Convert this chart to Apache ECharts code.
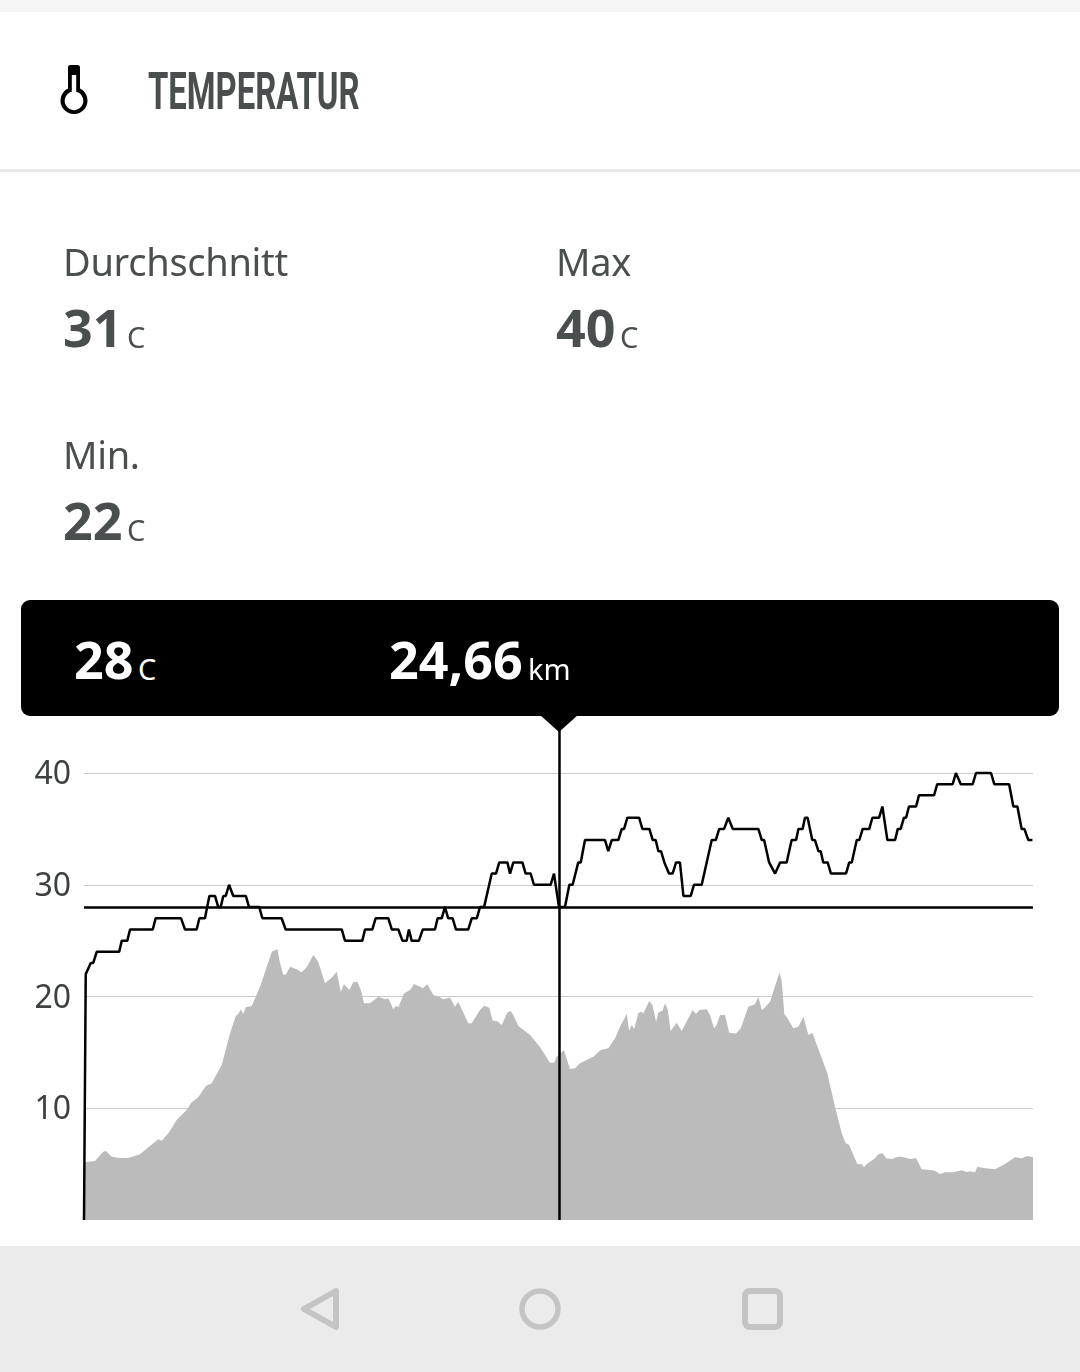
<!DOCTYPE html>
<html lang="de">
<head>
<meta charset="utf-8">
<title>Temperatur</title>
<script src="https://cdn.jsdelivr.net/npm/echarts@6/dist/echarts.min.js"></script>
<style>
  html, body { margin: 0; padding: 0; background: #fff; }
  body { position: relative; width: 1080px; height: 1372px; overflow: hidden; font-family: "Noto Sans", sans-serif; color: #4a4e4e; }
  #chart { position: absolute; left: 0; top: 0; width: 1080px; height: 1372px; }
  .abs { position: absolute; white-space: nowrap; line-height: 1; }
  .topStrip { position: absolute; left: 0; top: 0; width: 1080px; height: 12px; background: #f5f5f5; }
  .headerLine { position: absolute; left: 0; top: 169px; width: 1080px; height: 3px; background: #e8e8e8; }
  .title { left: 148px; top: 66px; font-family: Roboto, sans-serif; font-weight: 700; font-size: 52px; transform-origin: 0 0; transform: scaleX(0.632); }
  .label { font-size: 38px; letter-spacing: -0.3px; }
  .num { font-size: 52px; font-weight: 700; }
  .unit { font-size: 29px; }
  .tip { position: absolute; left: 21px; top: 600px; width: 1038px; height: 116px; background: #000; border-radius: 9px; }
  .pointer { position: absolute; left: 540px; top: 715px; width: 0; height: 0; border-left: 19px solid transparent; border-right: 19px solid transparent; border-top: 17px solid #000; }
  .white { color: #fff; }
  .nav { position: absolute; left: 0; top: 1246px; width: 1080px; height: 126px; background: #ebebeb; }
  svg { position: absolute; left: 0; top: 0; }
</style>
</head>
<body>
<div id="chart"></div>
<div class="topStrip"></div>
<div class="headerLine"></div>
<svg width="150" height="150" style="left:0;top:0">
  <path d="M70.5 65h7a2.5 2.5 0 0 1 2.5 2.5V88.5a13.5 13.5 0 1 1-12 0V67.500a2.500 2.500 0 0 1 2.500-2.500z" fill="#000"/>
  <path d="M71.800 75h4.400V91.800a9.300 9.300 0 1 1-4.400 0z" fill="#fff"/>
</svg>
<div class="abs title">TEMPERATUR</div>

<div class="abs label" style="left:63px;top:242px">Durchschnitt</div>
<div class="abs num" style="left:63px;top:301px">31</div>
<div class="abs unit" style="left:127px;top:322px">C</div>
<div class="abs label" style="left:556px;top:242px">Max</div>
<div class="abs num" style="left:556px;top:301px">40</div>
<div class="abs unit" style="left:620px;top:322px">C</div>
<div class="abs label" style="left:63px;top:435px">Min.</div>
<div class="abs num" style="left:63px;top:494px">22</div>
<div class="abs unit" style="left:127px;top:515px">C</div>

<div class="tip"></div>
<div class="pointer"></div>
<div class="abs num white" style="left:74px;top:633px">28</div>
<div class="abs unit white" style="left:138px;top:654px">C</div>
<div class="abs num white" style="left:389px;top:633px">24,66</div>
<div class="abs unit white" style="left:528px;top:654px">km</div>

<div class="nav"></div>
<svg width="1080" height="1372" style="pointer-events:none">
  <path d="M336 1291L304 1309L336 1327Z" fill="none" stroke="#c4c4c4" stroke-width="6" stroke-linejoin="round"/>
  <circle cx="540" cy="1309" r="18" fill="none" stroke="#c4c4c4" stroke-width="5.500"/>
  <rect x="745" y="1291" width="35" height="36" rx="5" fill="none" stroke="#c4c4c4" stroke-width="6"/>
</svg>

<script>
// Temperaturkurve, Stuetzpunkte
const tempKm = [0, 0.09, 0.17, 0.35, 0.48, 0.66, 1.83, 1.96, 2.25, 2.39, 3.57, 3.72, 5.04, 5.24, 5.85, 5.99, 6.28, 6.51, 6.80, 6.97, 7.10, 7.23, 7.36, 7.53, 7.75, 8.40, 8.57, 9.10, 9.26, 10.26, 10.47, 13.38, 13.55, 14.45, 14.59, 14.97, 15.14, 15.80, 15.98, 16.32, 16.53, 16.75, 16.87, 17.01, 17.39, 17.59, 18.22, 18.36, 18.57, 18.74, 18.91, 19.14, 19.31, 19.95, 20.13, 20.39, 20.56, 20.77, 21.17, 21.39, 21.56, 21.98, 22.12, 22.29, 22.76, 22.93, 23.19, 23.36, 24.23, 24.40, 24.49, 24.66, 24.80, 24.97, 25.20, 25.37, 25.66, 25.79, 26.01, 27.05, 27.22, 27.40, 27.74, 27.92, 28.04, 28.21, 28.82, 28.99, 29.35, 29.53, 29.68, 29.82, 29.96, 30.13, 30.20, 30.37, 30.56, 30.74, 30.94, 31.12, 31.50, 31.67, 32.07, 32.59, 32.80, 32.98, 33.23, 33.45, 33.68, 35.01, 35.19, 35.31, 35.57, 35.67, 35.88, 35.97, 36.14, 36.48, 36.74, 36.97, 37.09, 37.31, 37.43, 37.57, 37.81, 37.95, 38.13, 38.25, 38.38, 38.61, 38.78, 39.56, 39.73, 39.86, 40.12, 40.25, 40.43, 40.77, 40.93, 41.28, 41.45, 41.71, 42.11, 42.25, 42.40, 42.57, 42.68, 42.83, 43.20, 43.35, 44.13, 44.30, 45.10, 45.27, 45.52, 46.14, 46.31, 47.09, 47.26, 48.03, 48.25, 48.46, 48.68, 48.82, 49.03, 49.24]
const tempC = [0, 22, 22, 23, 23, 24, 24, 25, 25, 26, 26, 27, 27, 26, 26, 27, 27, 29, 29, 28, 28, 29, 29, 30, 29, 29, 28, 28, 27, 27, 26, 26, 25, 25, 26, 26, 27, 27, 26, 26, 25, 25, 26, 25, 25, 26, 26, 27, 27, 28, 27, 27, 26, 26, 27, 27, 28, 28, 31, 31, 32, 32, 31, 32, 32, 31, 31, 30, 30, 31, 31, 28, 28, 28, 30, 30, 32, 32, 34, 34, 33, 34, 34, 35, 35, 36, 36, 35, 35, 34, 34, 33, 33, 32, 32, 31, 31, 32, 32, 29, 29, 30, 30, 34, 34, 35, 35, 36, 35, 35, 34, 34, 32, 32, 31, 31, 32, 32, 34, 34, 35, 35, 36, 36, 34, 34, 33, 33, 32, 32, 31, 31, 32, 32, 34, 34, 35, 35, 36, 36, 37, 34, 34, 35, 35, 36, 36, 37, 37, 38, 38, 39, 39, 40, 39, 39, 40, 40, 39, 39, 37, 37, 35, 35, 34, 34]

const profileKm = [0, 0.05, 0.57, 1.00, 1.14, 1.44, 1.87, 2.30, 2.91, 3.34, 3.86, 4.03, 4.38, 4.81, 5.33, 5.59, 5.93, 6.33, 6.63, 7.15, 7.58, 7.88, 8.01, 8.14, 8.27, 8.40, 8.71, 9.14, 9.75, 10.04, 10.18, 10.35, 10.49, 10.70, 11.04, 11.30, 11.56, 11.91, 12.16, 12.51, 12.60, 12.86, 13.12, 13.33, 13.50, 13.77, 13.98, 14.19, 14.37, 14.54, 14.85, 15.28, 15.63, 15.80, 16.06, 16.20, 16.32, 16.61, 16.93, 17.13, 17.45, 17.59, 17.82, 18.14, 18.45, 18.65, 19.00, 19.26, 19.43, 19.95, 20.13, 20.56, 20.78, 21.04, 21.22, 21.46, 21.69, 21.98, 22.15, 22.29, 22.55, 23.16, 23.68, 24.19, 24.40, 24.54, 24.92, 25.23, 25.49, 25.75, 26.44, 26.83, 27.22, 27.57, 27.83, 28.18, 28.30, 28.44, 28.56, 28.78, 28.90, 29.04, 29.35, 29.51, 29.70, 29.82, 30.03, 30.17, 30.31, 30.46, 30.77, 31.03, 31.12, 31.60, 31.77, 31.95, 32.33, 32.50, 32.71, 32.85, 33.02, 33.28, 33.50, 33.85, 34.10, 34.49, 34.84, 35.01, 35.19, 35.31, 35.62, 36.10, 36.22, 36.36, 36.48, 36.83, 37.09, 37.35, 37.45, 37.61, 37.81, 38.21, 38.59, 38.99, 39.34, 39.55, 39.72, 40.15, 40.38, 40.50, 40.64, 41.07, 41.24, 41.47, 41.64, 41.94, 42.28, 42.45, 42.89, 43.20, 43.49, 43.92, 44.18, 44.44, 44.70, 45.13, 45.57, 45.83, 46.00, 46.26, 46.38, 46.78, 47.30, 47.73, 47.99, 48.34, 48.68, 48.98, 49.27]
const profileValues = [5.16, 5.16, 5.28, 6.11, 6.17, 5.67, 5.55, 5.55, 5.88, 6.5, 7.22, 7.1, 7.76, 8.95, 9.84, 10.53, 10.98, 11.99, 12.23, 13.87, 16.7, 18.26, 18.43, 18.85, 18.43, 19.03, 19.15, 20.88, 24.01, 24.22, 22.97, 21.92, 21.99, 22.67, 22.43, 22.16, 22.61, 23.71, 23.12, 21.18, 21.03, 21.68, 22.22, 20.43, 21.09, 20.58, 21.27, 21.32, 20.58, 19.39, 19.39, 19.98, 19.75, 19.84, 18.85, 19.18, 19.03, 20.28, 20.58, 21.12, 20.88, 20.73, 21.09, 20.13, 19.98, 19.75, 19.91, 19.09, 19.54, 17.6, 17.6, 18.79, 19.18, 19.0, 17.83, 17.78, 17.45, 18.58, 18.7, 18.34, 17.36, 16.55, 15.45, 14.08, 14.08, 14.61, 15.21, 13.51, 13.57, 14.02, 14.61, 15.21, 15.36, 16.26, 17.3, 18.43, 16.94, 17.45, 17.09, 18.5, 18.64, 18.5, 19.6, 19.24, 17.75, 18.58, 18.73, 19.39, 18.79, 16.91, 17.66, 16.91, 16.94, 18.79, 18.43, 18.79, 18.85, 18.34, 17.15, 17.45, 18.34, 18.34, 16.76, 16.7, 17.15, 19.09, 19.3, 19.98, 18.79, 18.94, 19.54, 22.13, 21.48, 18.41, 18.19, 17.15, 17.3, 18.19, 18.19, 16.55, 16.76, 14.92, 13.13, 10.14, 7.76, 6.86, 6.71, 5.01, 4.98, 4.72, 5.01, 5.52, 5.88, 5.97, 5.52, 5.46, 5.67, 5.67, 5.46, 5.52, 4.54, 4.47, 4.41, 4.09, 4.27, 4.27, 4.45, 4.3, 4.36, 4.27, 4.77, 4.63, 4.54, 4.92, 5.22, 5.61, 5.52, 5.73, 5.61]

const yTicks = [10, 20, 30, 40]
const distanceMax = 49.27
const yTop = 43.85 // Platz fuer die Markierungslinie bis zum Tooltip
const selectedKm = 24.66
const selectedTemp = 28

const myChart = echarts.init(document.getElementById('chart'), null, { renderer: 'canvas' })
const zip = function(xs, ys) {
  return xs.map(function(x, i) { return [x, ys[i]] })
}

myChart.setOption({
  animation: false,
  grid: { left: 84, right: 47, top: 730, height: 490 },
  xAxis: {
    type: 'value',
    min: 0,
    max: distanceMax,
    show: false
  },
  yAxis: {
    type: 'value',
    min: 0,
    max: yTop,
    interval: 10,
    axisLine: { show: false },
    axisTick: { show: false },
    axisLabel: {
      color: '#3c4040',
      fontFamily: 'Noto Sans',
      fontSize: 32,
      margin: 13,
      verticalAlign: 'top',
      lineHeight: 4,
      formatter: function(value) {
        return yTicks.indexOf(value) >= 0 ? String(value) : ''
      }
    },
    splitLine: {
      show: true,
      showMinLine: false,
      showMaxLine: false,
      lineStyle: { color: '#cccccc', width: 1 }
    }
  },
  series: [
    {
      type: 'line',
      data: zip(profileKm, profileValues),
      symbol: 'none',
      silent: true,
      lineStyle: { width: 0 },
      areaStyle: { color: '#bbbbbb', opacity: 1 },
      z: 2
    },
    {
      type: 'line',
      data: zip(tempKm, tempC),
      symbol: 'none',
      silent: true,
      lineStyle: { color: '#000', width: 2.5 },
      z: 3,
      markLine: {
        silent: true,
        symbol: 'none',
        label: { show: false },
        lineStyle: { color: '#000', width: 2.5, type: 'solid' },
        data: [
          [{ coord: [selectedKm, 0] }, { coord: [selectedKm, yTop] }],
          [{ coord: [0, selectedTemp] }, { coord: [distanceMax, selectedTemp] }]
        ]
      }
    }
  ]
})
</script>
</body>
</html>
